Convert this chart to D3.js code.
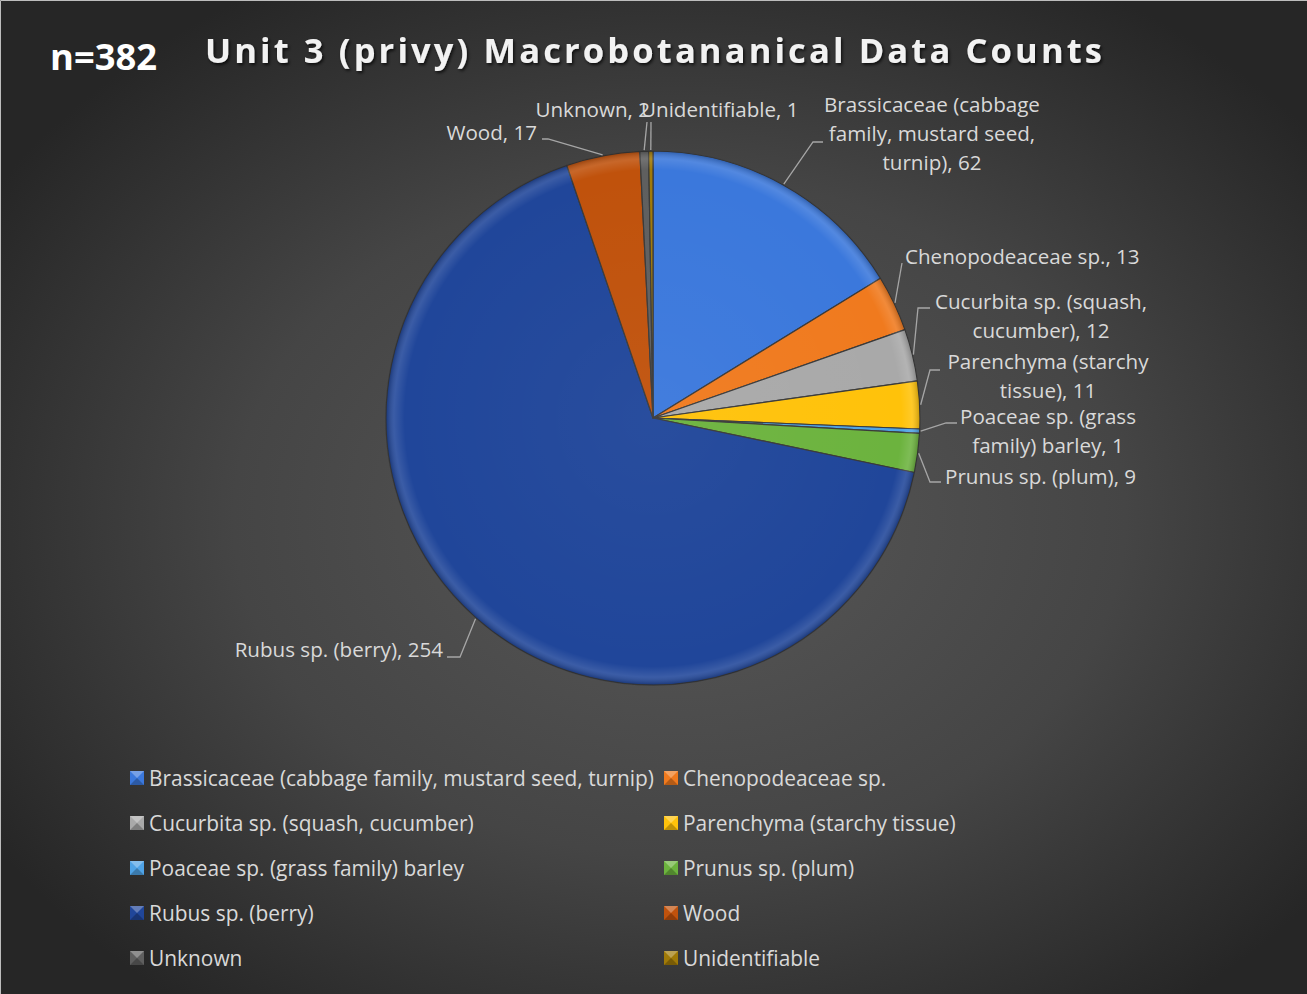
<!DOCTYPE html>
<html>
<head>
<meta charset="utf-8">
<script src="https://cdn.jsdelivr.net/npm/d3@7"></script>
<style>
  html, body { margin: 0; padding: 0; background: #2a2a2a; }
  svg { display: block; }
</style>
</head>
<body>
<svg id="chart" width="1307" height="994"></svg>
<script>
// values (n = 382)
const categories = [
  'Brassicaceae (cabbage family, mustard seed, turnip)',
  'Chenopodeaceae sp.',
  'Cucurbita sp. (squash, cucumber)',
  'Parenchyma (starchy tissue)',
  'Poaceae sp. (grass family) barley',
  'Prunus sp. (plum)',
  'Rubus sp. (berry)',
  'Wood',
  'Unknown',
  'Unidentifiable'
];
const counts = [62, 13, 12, 11, 1, 9, 254, 17, 2, 1];
// data label text, split the way the chart wraps it
const labelLines = [
  ['Brassicaceae (cabbage', 'family, mustard seed,', 'turnip), 62'],
  ['Chenopodeaceae sp., 13'],
  ['Cucurbita sp. (squash,', 'cucumber), 12'],
  ['Parenchyma (starchy', 'tissue), 11'],
  ['Poaceae sp. (grass', 'family) barley, 1'],
  ['Prunus sp. (plum), 9'],
  ['Rubus sp. (berry), 254'],
  ['Wood, 17'],
  ['Unknown, 2'],
  ['Unidentifiable, 1']
];
const colors = ['#3b78dc', '#f07a1e', '#a9a9a9', '#ffc20a', '#4fa3e6',
                '#6cb33e', '#20469a', '#c0520c', '#5f5f5f', '#a07a08'];

const W = 1307, H = 994;
const cx = 653, cy = 418, R = 267;
const FONT = '"Open Sans", "Noto Sans", sans-serif';

const svg = d3.select('#chart');
const defs = svg.append('defs');

// background: dark with a lighter middle
const bg = defs.append('radialGradient').attr('id', 'bg')
  .attr('cx', '52%').attr('cy', '52%').attr('r', '62%');
bg.append('stop').attr('offset', '0%').attr('stop-color', '#585858');
bg.append('stop').attr('offset', '55%').attr('stop-color', '#454545');
bg.append('stop').attr('offset', '100%').attr('stop-color', '#262626');
svg.append('rect').attr('width', W).attr('height', H).attr('fill', 'url(#bg)');
// thin light edge on top/left
svg.append('path').attr('d', `M0.5,${H} V0.5 H${W}`)
  .attr('fill', 'none').attr('stroke', '#bdbdbd').attr('stroke-width', 1);

// bevel overlay for the slices (coordinates are local to the pie group)
const bevel = defs.append('radialGradient').attr('id', 'bevel')
  .attr('gradientUnits', 'userSpaceOnUse')
  .attr('cx', 0).attr('cy', 0).attr('r', R);
bevel.append('stop').attr('offset', '0%').attr('stop-color', '#fff').attr('stop-opacity', 0.04);
bevel.append('stop').attr('offset', '93%').attr('stop-color', '#fff').attr('stop-opacity', 0);
bevel.append('stop').attr('offset', '97%').attr('stop-color', '#fff').attr('stop-opacity', 0.12);
bevel.append('stop').attr('offset', '100%').attr('stop-color', '#000').attr('stop-opacity', 0.22);

const shadow = defs.append('filter').attr('id', 'tshadow')
  .attr('x', '-5%').attr('y', '-20%').attr('width', '110%').attr('height', '150%');
shadow.append('feDropShadow').attr('dx', 1.5).attr('dy', 2).attr('stdDeviation', 1.5)
  .attr('flood-color', '#000').attr('flood-opacity', 0.7);

// titles
svg.append('text').attr('x', 50).attr('y', 70)
  .attr('font-family', FONT).attr('font-weight', 'bold').attr('font-size', 35)
  .attr('fill', '#fff').attr('textLength', 107).attr('lengthAdjust', 'spacingAndGlyphs')
  .text('n=382');
svg.append('text').attr('x', 205).attr('y', 63)
  .attr('font-family', FONT).attr('font-weight', 'bold').attr('font-size', 34.5)
  .attr('fill', '#f2f2f2').attr('filter', 'url(#tshadow)')
  .attr('textLength', 897).attr('lengthAdjust', 'spacing')
  .text('Unit 3 (privy) Macrobotananical Data Counts');

// pie
const pie = d3.pie().sort(null).value(d => d)(counts);
const arc = d3.arc().innerRadius(0).outerRadius(R);
const g = svg.append('g').attr('transform', `translate(${cx},${cy})`);

g.selectAll('path.slice').data(pie).join('path')
  .attr('class', 'slice')
  .attr('d', arc)
  .attr('fill', (d, i) => colors[i])
  .attr('stroke', '#3a3a3a').attr('stroke-width', 1.2).attr('stroke-linejoin', 'round');
g.selectAll('path.bevel').data(pie).join('path')
  .attr('class', 'bevel')
  .attr('d', arc)
  .attr('fill', 'url(#bevel)');

// data labels: layout relative to the pie centre, anchored per label
const labelLayout = [
  { x: 279, y: -306, anchor: 'middle', elbow: [160, -276], end: [170, -276] },
  { x: 252, y: -154, anchor: 'start',  elbow: [249, -155], end: [249, -155] },
  { x: 388, y: -109, anchor: 'middle', elbow: [265, -110], end: [277, -110] },
  { x: 395, y: -49,  anchor: 'middle', elbow: [277, -48],  end: [287, -48] },
  { x: 395, y: 6,    anchor: 'middle', elbow: [293, 5],    end: [304, 5] },
  { x: 292, y: 66,   anchor: 'start',  elbow: [277, 64],   end: [288, 64] },
  { x: -210, y: 239, anchor: 'end',   elbow: [-193, 239], end: [-206, 239] },
  { x: -116, y: -278, anchor: 'end',  elbow: [-105, -279], end: [-111, -279] },
  { x: -3,   y: -301, anchor: 'end',  elbow: [-6, -296],  end: [-6, -296] },
  { x: -12,  y: -301, anchor: 'start', elbow: [-2, -296], end: [-2, -296] }
];

const lines = svg.append('g').attr('transform', `translate(${cx},${cy})`);
pie.forEach((d, i) => {
  const L = labelLayout[i];
  const mid = (d.startAngle + d.endAngle) / 2;
  const sx = Math.sin(mid) * (R + 1), sy = -Math.cos(mid) * (R + 1);
  lines.append('polyline')
    .attr('points', [[sx, sy], L.elbow, L.end].map(p => p.join(',')).join(' '))
    .attr('fill', 'none').attr('stroke', '#a6a6a6').attr('stroke-width', 1.3);
  const t = lines.append('text')
    .attr('font-family', FONT).attr('font-size', 20.6).attr('fill', '#d9d9d9')
    .attr('text-anchor', L.anchor);
  labelLines[i].forEach((s, k) => {
    t.append('tspan').attr('x', L.x).attr('y', L.y + k * 29).text(s);
  });
});

// legend
const legendCols = [130, 664];
const legendRow0 = 778, legendStep = 45;
const legend = svg.append('g');
categories.forEach((c, i) => {
  const x = legendCols[i % 2], y = legendRow0 + Math.floor(i / 2) * legendStep;
  const lg = legend.append('g').attr('transform', `translate(${x},${y})`);
  lg.append('rect').attr('x', 0).attr('y', -7).attr('width', 14).attr('height', 14)
    .attr('fill', colors[i]);
  // little pyramid bevel on the marker
  lg.append('path').attr('d', 'M0,-7 L14,-7 L7,0 Z').attr('fill', '#fff').attr('opacity', 0.3);
  lg.append('path').attr('d', 'M0,7 L14,7 L7,0 Z').attr('fill', '#000').attr('opacity', 0.25);
  lg.append('text').attr('x', 19).attr('y', 7.5)
    .attr('font-family', FONT).attr('font-size', 20.9).attr('fill', '#d9d9d9')
    .text(c);
});
</script>
</body>
</html>
